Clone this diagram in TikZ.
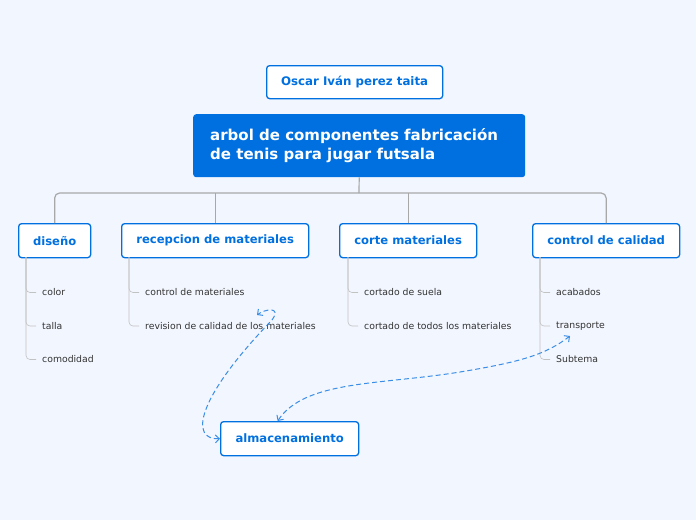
\documentclass[tikz,border=0pt]{standalone}
\usepackage{fontspec}
\setmainfont{DejaVu Sans}
\usetikzlibrary{arrows.meta}
\definecolor{bg}{HTML}{F2F6FE}
\definecolor{mblue}{HTML}{0070E0}
\definecolor{dblue}{HTML}{3A8EE6}
\definecolor{lgray}{HTML}{A8A8A8}
\definecolor{txt}{HTML}{333333}
\begin{document}
\begin{tikzpicture}[x=1pt,y=-1pt,
  topic/.style={draw=mblue,line width=1.3pt,fill=white,rounded corners=3pt,text=mblue,font=\bfseries\fontsize{11.6}{13}\selectfont,anchor=north west,inner sep=0pt,align=center},
  item/.style={anchor=west,font=\fontsize{9.3}{10}\selectfont,text=txt,inner sep=0pt},
  conn/.style={draw=lgray,line width=1.2pt,rounded corners=5pt},
  sub/.style={draw=lgray!70,line width=0.6pt,rounded corners=4pt},
  rel/.style={draw=dblue,line width=1pt,dashed,dash pattern=on 5pt off 3pt,{Straight Barb[length=4pt]}-{Straight Barb[length=4pt]}}]
\fill[bg] (0,0) rectangle (696,520);
\node[topic,minimum width=176pt,minimum height=33pt,font=\bfseries\fontsize{11.8}{13}\selectfont] (title) at (266,65) {Oscar Iván perez taita};
\node[fill=mblue,rounded corners=3pt,minimum width=332pt,minimum height=63pt,anchor=north west,inner sep=0pt] (main) at (193,114) {};
\node[anchor=west,text=white,font=\bfseries\fontsize{15}{19}\selectfont,align=left,inner sep=0pt] (maint) at (210,146) {arbol de componentes fabricación\\de tenis para jugar futsala};
\node[topic,minimum width=72pt,minimum height=34pt] (d) at (18,223) {diseño};
\node[topic,minimum width=187pt,minimum height=34pt] (r) at (121,223) {recepcion de materiales};
\node[topic,minimum width=137pt,minimum height=34pt] (c) at (339,223) {corte materiales};
\node[topic,minimum width=147pt,minimum height=34pt] (q) at (532,223) {control de calidad};
\node[topic,minimum width=138pt,minimum height=34pt] (a) at (220,421) {almacenamiento};
\coordinate (hub) at (359,193);
\draw[conn] (main.south) -- (hub);
\draw[conn] (d.north) |- (hub) -| (q.north);
\draw[conn] (r.north) -- ++(0,-30);
\draw[conn] (c.north) -- ++(0,-30);
\foreach \n/\x/\lst in {d/26/{color,talla,comodidad},r/129/{control de materiales,revision de calidad de los materiales},c/348/{cortado de suela,cortado de todos los materiales},q/540/{acabados,transporte,Subtema}}{
  \foreach \t [count=\i] in \lst {
    \node[item] (\n\i) at (\x+16,259+33.5*\i) {\t};
    \draw[sub] (\x,257) |- ([xshift=-6pt]\n\i.west);
  }
}
\draw[rel] (a.west) .. controls (190,440) and (195,400) .. (272,320) .. controls (282,306) and (265,309) .. (257,315);
\draw[rel] ([xshift=-12pt]a.north) .. controls (305,380) and (380,385) .. (460,372) .. controls (520,362) and (545,355) .. (570,336);
\end{tikzpicture}
\end{document}
